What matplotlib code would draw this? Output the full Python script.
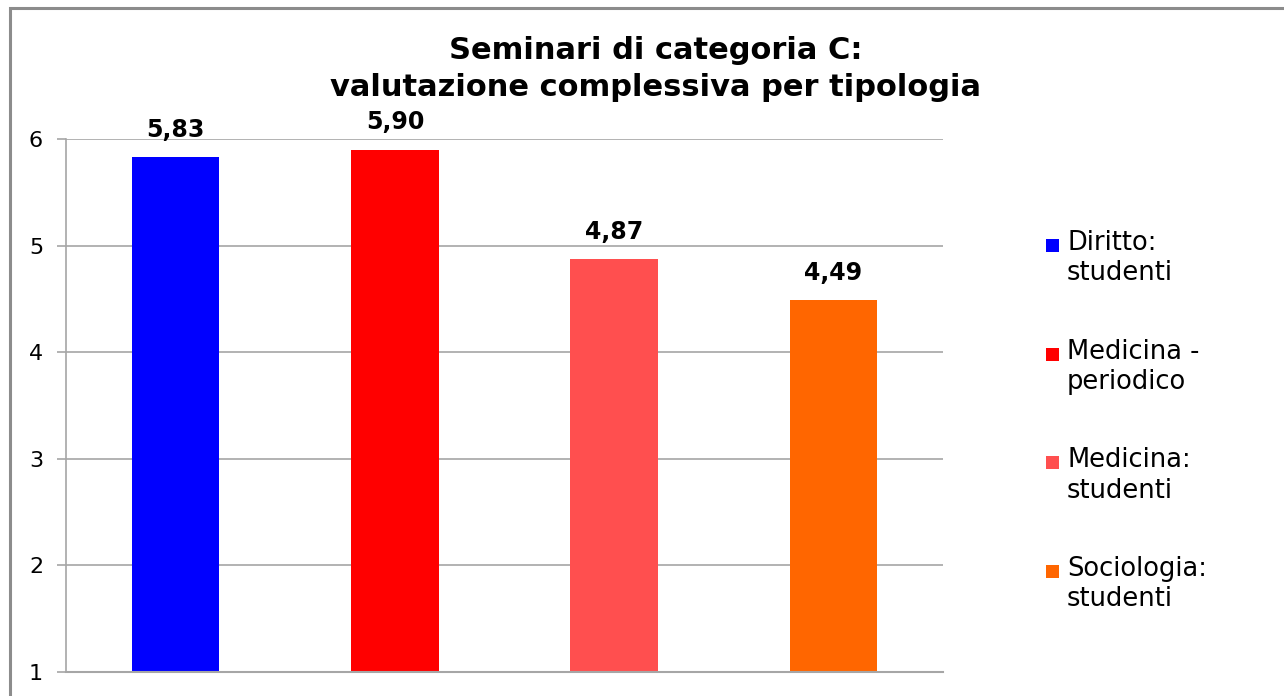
import matplotlib
matplotlib.use("Agg")
import matplotlib.pyplot as plt
from matplotlib.patches import Rectangle

categories = ["Diritto:\nstudenti", "Medicina -\nperiodico", "Medicina:\nstudenti", "Sociologia:\nstudenti"]
values = [5.83, 5.90, 4.87, 4.49]
colors = ["#0000FF", "#FF0000", "#FF4F4F", "#FF6600"]
yticks = [1, 2, 3, 4, 5, 6]
title = "Seminari di categoria C:\nvalutazione complessiva per tipologia"

W, H = 1284, 696
fig = plt.figure(figsize=(W / 100, H / 100), dpi=100)
fig.patch.set_facecolor("white")

# outer border (top and left visible)
fig.patches.append(Rectangle((10 / W, -0.1), 1.2, 1 - 8 / H + 0.1, transform=fig.transFigure,
                             fill=False, edgecolor="#8C8C8C", linewidth=2.2))

ax = fig.add_axes([66 / W, 1 - 672 / H, (943 - 66) / W, (672 - 139) / H])
x = list(range(len(values)))
ax.bar(x, [v - 1 for v in values], bottom=1, width=0.4, color=colors, zorder=3)
ax.set_xlim(-0.5, len(values) - 0.5)
ax.set_ylim(1, 6)
ax.set_yticks(yticks)
ax.set_yticklabels([str(t) for t in yticks], fontsize=16)
ax.set_xticks([])
ax.grid(axis="y", color="#A6A6A6", linewidth=1.2, zorder=0)
for s in ["top", "right", "bottom"]:
    ax.spines[s].set_visible(False)
ax.spines["left"].set_color("#A6A6A6")
ax.spines["left"].set_linewidth(1.2)
ax.tick_params(axis="y", length=6.5, width=1.2, color="#A6A6A6", pad=10)
ax.axhline(1, color="#A6A6A6", linewidth=1.5, zorder=4, clip_on=False)

for xi, v in zip(x, values):
    ax.annotate(f"{v:.2f}".replace(".", ","), (xi, v), xytext=(0, 11), textcoords="offset points",
                ha="center", va="bottom", fontsize=17, fontweight="bold")

fig.text(656 / W, 1 - 69 / H, title, ha="center", va="center", fontsize=22,
         fontweight="bold", linespacing=1.35)

# legend
for i, (lab, c) in enumerate(zip(categories, colors)):
    yc = 245 + i * 108.7
    fig.patches.append(Rectangle((1046 / W, 1 - (yc + 7) / H), 13 / W, 13 / H,
                                 transform=fig.transFigure, facecolor=c, edgecolor="none"))
    fig.text(1067 / W, 1 - (yc - 15) / H, lab, ha="left", va="top", fontsize=18.5, linespacing=1.22)

fig.savefig("out.png", dpi=100)
